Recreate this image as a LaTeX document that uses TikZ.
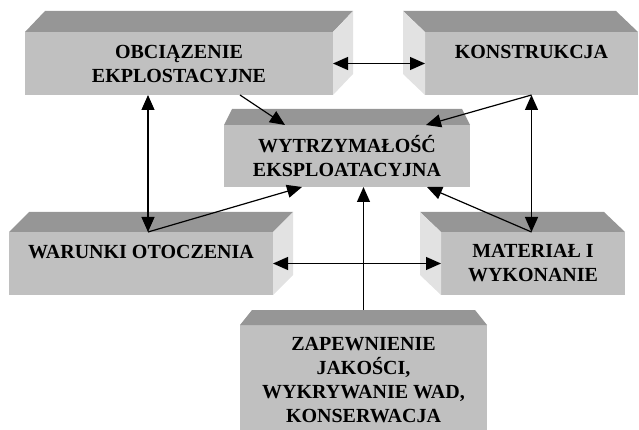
\documentclass[tikz,border=0pt]{standalone}
\usepackage{fontspec}
\setmainfont{Liberation Serif}
\usetikzlibrary{arrows.meta}
\definecolor{boxgray}{HTML}{C0C0C0}
\definecolor{roofgray}{HTML}{969696}
\definecolor{wallgray}{HTML}{E2E2E2}

\begin{document}
\begin{tikzpicture}[x=1pt,y=-1pt,line width=1.2pt,>={Triangle[length=15pt,width=13pt]},block/.style ={rectangle, fill=boxgray, inner sep=0pt, outer sep=0pt, align=center, font=\bfseries\fontsize{20}{24}\selectfont},roof/.style={fill=roofgray},wall/.style={fill=wallgray}]
\useasboundingbox (0,0) rectangle (639,430);
\draw (179,63.5) node[block,minimum width=308pt,minimum height=63pt] (obc) {OBCIĄZENIE\\EKPLOSTACYJNE};
\draw (531.5,63.5) node[block,minimum width=213pt,minimum height=63pt] (kon) {KONSTRUKCJA\\~};
\draw (347,156) node[block,minimum width=246pt,minimum height=62pt] (wyt) {WYTRZYMAŁOŚĆ\\EKSPLOATACYJNA};
\draw (141,263.5) node[block,minimum width=264pt,minimum height=63pt] (war) {WARUNKI OTOCZENIA\\~};
\draw (533,263.5) node[block,minimum width=184pt,minimum height=63pt] (mat) {MATERIAŁ I\\WYKONANIE};
\draw (363.5,380) node[block,minimum width=247pt,minimum height=110pt] (zap) {ZAPEWNIENIE\\JAKOŚCI,\\WYKRYWANIE WAD,\\KONSERWACJA};
% tops and sides of the boxes
\fill[roof] (obc.north west) -- ++(20,-21) -- ([shift={(20,-21)}]obc.north east) -- (obc.north east) -- cycle;
\fill[wall] (obc.north east) -- ++(20,-21) -- ++(0,63) -- (obc.south east) -- cycle;
\fill[roof] (kon.north east) -- ++(-22,-21) -- ([shift={(-22,-21)}]kon.north west) -- (kon.north west) -- cycle;
\fill[wall] (kon.north west) -- ++(-22,-21) -- ++(0,63) -- (kon.south west) -- cycle;
\fill[roof] (wyt.north west) -- ++(8,-16) -- ([shift={(-8,-16)}]wyt.north east) -- (wyt.north east) -- cycle;
\fill[roof] (war.north west) -- ++(20,-20) -- ([shift={(20,-20)}]war.north east) -- (war.north east) -- cycle;
\fill[wall] (war.north east) -- ++(20,-20) -- ++(0,63) -- (war.south east) -- cycle;
\fill[roof] (mat.north east) -- ++(-21,-20) -- ([shift={(-21,-20)}]mat.north west) -- (mat.north west) -- cycle;
\fill[wall] (mat.north west) -- ++(-21,-20) -- ++(0,63) -- (mat.south west) -- cycle;
\fill[roof] (zap.north west) -- ++(12,-15) -- ([shift={(-12,-15)}]zap.north east) -- (zap.north east) -- cycle;
\coordinate (lx) at (148,0);
\draw[<->] (obc) -- (kon);
\draw[<->] (war) -- (mat);
\draw[<->] (obc.south -| lx) -- (war.north -| lx);
\draw[<->] (kon.south) -- (kon.south |- mat.north);
\draw[->] ([xshift=61pt]obc.south) -- ([xshift=-62pt]wyt.north);
\draw[->] (kon.south) -- ([xshift=79pt]wyt.north);
\draw[->] (war.north -| lx) -- ([xshift=-45pt]wyt.south);
\draw[->] (kon.south |- mat.north) -- ([xshift=80pt]wyt.south);
\draw[->] ([yshift=15pt]zap.north) -- (zap.north |- wyt.south);
\end{tikzpicture}
\end{document}
